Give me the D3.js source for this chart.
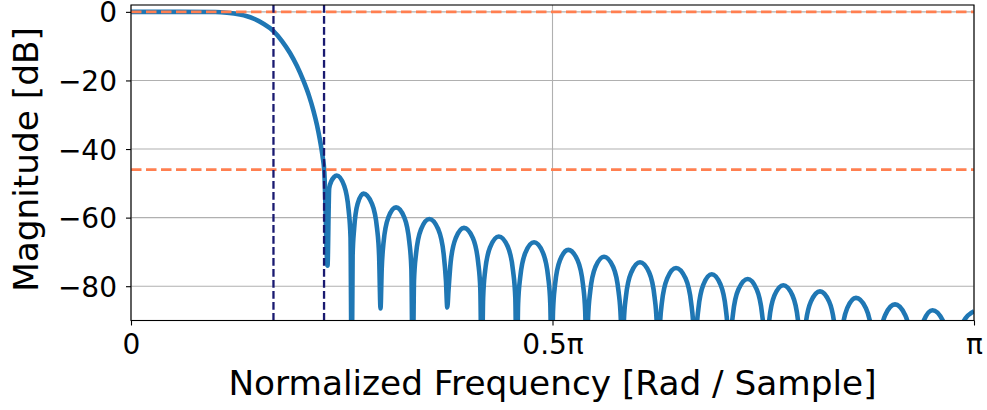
<!DOCTYPE html>
<html>
<head>
<meta charset="utf-8">
<script src="https://cdn.jsdelivr.net/npm/d3@7"></script>
<style>
body { margin: 0; background: #fff; }
text { font-family: "DejaVu Sans", sans-serif; fill: #000; }
</style>
</head>
<body>
<div id="chart"></div>
<script>
// frequency in units of pi rad/sample, magnitude in dB
var freqs = [
    0, 0.0581, 0.1000, 0.1139, 0.1293, 0.1376, 0.1447, 0.1566, 0.1690, 0.1791,
    0.1886, 0.1969, 0.2044, 0.2112, 0.2163, 0.2206, 0.2242, 0.2272, 0.2293, 0.2331,
    0.2351, 0.2378, 0.2408, 0.2440, 0.2529, 0.2582, 0.2604, 0.2618,
    0.2629, 0.2647, 0.2688, 0.2758, 0.2859, 0.2919, 0.2943, 0.2960,
    0.2974, 0.2996, 0.3052, 0.3144, 0.3243, 0.3302, 0.3326, 0.3342,
    0.3357, 0.3381, 0.3440, 0.3539, 0.3645, 0.3709, 0.3736, 0.3752,
    0.3767, 0.3791, 0.3852, 0.3950, 0.4056, 0.4119, 0.4144, 0.4160,
    0.4177, 0.4200, 0.4262, 0.4363, 0.4470, 0.4533, 0.4559, 0.4575,
    0.4592, 0.4617, 0.4679, 0.4781, 0.4886, 0.4949, 0.4974, 0.4991,
    0.5006, 0.5030, 0.5089, 0.5187, 0.5297, 0.5362, 0.5388, 0.5406,
    0.5422, 0.5447, 0.5509, 0.5611, 0.5720, 0.5784, 0.5810, 0.5828,
    0.5845, 0.5870, 0.5934, 0.6038, 0.6147, 0.6211, 0.6237, 0.6255,
    0.6272, 0.6297, 0.6361, 0.6465, 0.6578, 0.6645, 0.6673, 0.6690,
    0.6706, 0.6730, 0.6790, 0.6889, 0.6993, 0.7056, 0.7081, 0.7097,
    0.7115, 0.7141, 0.7206, 0.7316, 0.7422, 0.7486, 0.7512, 0.7529,
    0.7546, 0.7571, 0.7633, 0.7738, 0.7847, 0.7912, 0.7938, 0.7956,
    0.7974, 0.8000, 0.8065, 0.8173, 0.8282, 0.8346, 0.8373, 0.8390,
    0.8407, 0.8432, 0.8496, 0.8600, 0.8718, 0.8788, 0.8815, 0.8834,
    0.8852, 0.8880, 0.8949, 0.9063, 0.9181, 0.9253, 0.9281, 0.9300,
    0.9342, 0.9405, 0.9508, 0.9630, 0.9702, 0.9751,
    0.9801, 0.9875, 1.0
];

var magnitudes = [
    0, 0, -0.05, -0.25, -0.8, -1.3, -1.9, -3.4, -5.6, -8.5,
    -12, -15.8, -20, -24.5, -28.7, -33, -37.5, -42, -46.5, -74,
    -51.5, -49.3, -48.2, -47.7, -50.7, -57.9, -65.7, -110,
    -71, -63.2, -56, -53, -56, -63.2, -71, -86.5,
    -75, -67.2, -60, -57, -60, -67.2, -75, -110,
    -78.4, -70.6, -63.4, -60.4, -63.4, -70.6, -78.4, -86.2,
    -81, -73.2, -66, -63, -66, -73.2, -81, -110,
    -83.5, -75.7, -68.5, -65.5, -68.5, -75.7, -83.5, -110,
    -85.2, -77.4, -70.2, -67.2, -70.2, -77.4, -85.2, -110,
    -87.4, -79.6, -72.4, -69.4, -72.4, -79.6, -87.4, -110,
    -89.4, -81.6, -74.4, -71.4, -74.4, -81.6, -89.4, -110,
    -91, -83.2, -76, -73, -76, -83.2, -91, -110,
    -92.7, -84.9, -77.7, -74.7, -77.7, -84.9, -92.7, -110,
    -94.5, -86.7, -79.5, -76.5, -79.5, -86.7, -94.5, -110,
    -95.9, -88.1, -80.9, -77.9, -80.9, -88.1, -95.9, -110,
    -97.7, -89.9, -82.7, -79.7, -82.7, -89.9, -97.7, -110,
    -99.5, -91.7, -84.5, -81.5, -84.5, -91.7, -99.5, -110,
    -101, -93.6, -86.4, -83.4, -86.4, -93.6, -101, -110,
    -103, -95.5, -88.3, -85.3, -88.3, -95.5, -103, -110,
    -97.2, -90, -87, -90, -97.2, -110,
    -97.5, -90.3, -87.3
];

var cutoffFreqs = [0.169, 0.229];
var limitLevels = [0, -46];

var xTicks = [0, 0.5, 1];
var xTickLabels = ['0', '0.5π', 'π'];
var yTicks = [0, -20, -40, -60, -80];

var width = 987;
var height = 410;

var margin = {
    top: 5,
    bottom: 89.5,
    left: 131,
    right: 13,
};

var w = width - margin.left - margin.right;
var h = height - margin.top - margin.bottom;

var data = freqs.map(function(f, i) {
    return { f: f, db: magnitudes[i] };
});

var xScale = d3.scaleLinear()
    .domain([0, 1])
    .range([0, w]);

var yScale = d3.scaleLinear()
    .domain([-90, 2])
    .range([h, 0]);

var svg = d3.select('#chart')
    .append('svg')
    .attr('width', width)
    .attr('height', height)
    .style('background', '#fff');

svg.append('defs')
    .append('clipPath')
    .attr('id', 'plot-clip')
    .append('rect')
    .attr('width', w)
    .attr('height', h);

var g = svg.append('g')
    .attr('transform', 'translate(' + margin.left + ',' + margin.top + ')');

// grid
g.selectAll('.ygrid')
    .data(yTicks)
    .enter()
    .append('line')
    .attr('class', 'ygrid')
    .attr('x1', 0)
    .attr('x2', w)
    .attr('y1', function(d) { return yScale(d); })
    .attr('y2', function(d) { return yScale(d); })
    .attr('stroke', '#b0b0b0')
    .attr('stroke-width', 1.1);

g.selectAll('.xgrid')
    .data(xTicks)
    .enter()
    .append('line')
    .attr('class', 'xgrid')
    .attr('x1', function(d) { return xScale(d); })
    .attr('x2', function(d) { return xScale(d); })
    .attr('y1', 0)
    .attr('y2', h)
    .attr('stroke', '#b0b0b0')
    .attr('stroke-width', 1.1);

var line = d3.line()
    .x(function(d) { return xScale(d.f); })
    .y(function(d) { return yScale(d.db); })
    .curve(d3.curveMonotoneX);

g.append('path')
    .datum(data)
    .attr('clip-path', 'url(#plot-clip)')
    .attr('d', line)
    .attr('fill', 'none')
    .attr('stroke', '#1f77b4')
    .attr('stroke-width', 4.6)
    .attr('stroke-linejoin', 'round');

// spec lines
g.selectAll('.limit')
    .data(limitLevels)
    .enter()
    .append('line')
    .attr('class', 'limit')
    .attr('x1', 0)
    .attr('x2', w)
    .attr('y1', function(d) { return yScale(d); })
    .attr('y2', function(d) { return yScale(d); })
    .attr('stroke', 'coral')
    .attr('stroke-width', 2.7)
    .attr('stroke-dasharray', '10.5,4.5');

g.selectAll('.cutoff')
    .data(cutoffFreqs)
    .enter()
    .append('line')
    .attr('class', 'cutoff')
    .attr('x1', function(d) { return xScale(d); })
    .attr('x2', function(d) { return xScale(d); })
    .attr('y1', 0)
    .attr('y2', h)
    .attr('stroke', '#191970')
    .attr('stroke-width', 2.3)
    .attr('stroke-dasharray', '7.7,3.3');

// frame
g.append('rect')
    .attr('width', w)
    .attr('height', h)
    .attr('fill', 'none')
    .attr('stroke', '#000')
    .attr('stroke-width', 1.1);

var xAxis = d3.axisBottom(xScale)
    .tickValues(xTicks)
    .tickFormat(function(d, i) { return xTickLabels[i]; })
    .tickSize(5);

var yAxis = d3.axisLeft(yScale)
    .tickValues(yTicks)
    .tickFormat(d3.format('d'))
    .tickSize(5);

var gx = g.append('g')
    .attr('transform', 'translate(0,' + h + ')')
    .call(xAxis);

gx.select('.domain').remove();
gx.selectAll('.tick line').attr('stroke', '#000').attr('stroke-width', 1.1);
gx.selectAll('.tick text')
    .attr('y', 33.5)
    .attr('dy', 0)
    .attr('font-size', '28px')
    .attr('font-family', '"DejaVu Sans", sans-serif');

var gy = g.append('g')
    .call(yAxis);

gy.select('.domain').remove();
gy.selectAll('.tick line').attr('stroke', '#000').attr('stroke-width', 1.1);
gy.selectAll('.tick text')
    .attr('x', -14)
    .attr('dy', '0.36em')
    .attr('font-size', '28px')
    .attr('font-family', '"DejaVu Sans", sans-serif');

svg.append('text')
    .attr('x', margin.left + w / 2)
    .attr('y', 395)
    .attr('text-anchor', 'middle')
    .attr('font-size', '34.3px')
    .text('Normalized Frequency [Rad / Sample]');

svg.append('text')
    .attr('transform', 'translate(37.5,159.5) rotate(-90)')
    .attr('text-anchor', 'middle')
    .attr('font-size', '34.3px')
    .text('Magnitude [dB]');
</script>
</body>
</html>
